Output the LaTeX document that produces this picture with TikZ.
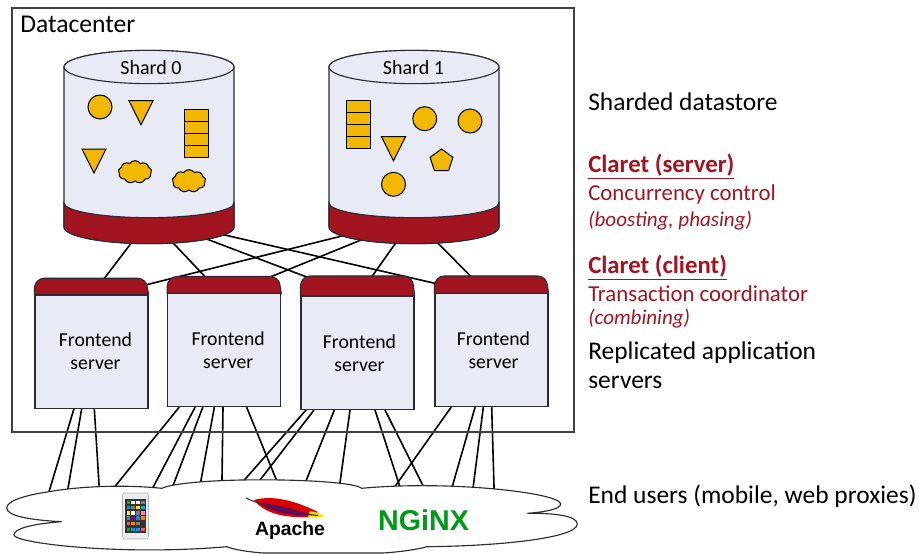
\documentclass[tikz,border=0pt]{standalone}
\usepackage{fontspec}
\setmainfont{Carlito}
\newfontfamily\logofont{Liberation Sans}
\usepackage{tikz}
\usetikzlibrary{calc,backgrounds,shapes.geometric,shapes.symbols}
\definecolor{claret}{rgb}{0.64, 0.08, 0.13}
\definecolor{facegray}{rgb}{0.91, 0.92, 0.96}
\definecolor{itemgold}{rgb}{0.95, 0.72, 0.0}
\definecolor{edgegray}{rgb}{0.17, 0.17, 0.2}
\definecolor{nginxgreen}{rgb}{0.0, 0.6, 0.1}
\tikzset{
  link/.style={line width=1.2pt, line cap = round},
  frontend/.style={draw=edgegray, line width=.85pt, fill=facegray, minimum width=84.75pt, minimum height=84.75pt, align=center, font=\fontsize{14.8}{17.2}\selectfont, inner sep=0pt},
  fecap/.style={draw=edgegray, line width=.85pt, fill=claret},
  item/.style={draw=black, fill=itemgold, line width=.75pt},
  sidetext/.style={anchor=west, inner sep=0pt, font=\fontsize{19.1}{22}\selectfont},
  claretbig/.style={anchor=west, inner sep=0pt, text=claret, font=\fontsize{18.6}{22}\selectfont\bfseries},
  claretsmall/.style={anchor=west, inner sep=0pt, text=claret, font=\fontsize{17.1}{20}\selectfont},
  claretnote/.style={anchor=west, inner sep=0pt, text=claret, font=\fontsize{15.8}{18}\selectfont\itshape},
}
\begin{document}
\begin{tikzpicture}[x=.75pt, y=-.75pt]
  \useasboundingbox (0,0) rectangle (919,553);
  \node[draw=black!75, line width=.8pt, minimum width=421.5pt, minimum height=318pt, inner sep=0pt] (datacenter) at (293,220) {};
  \node[anchor=west, inner sep=0pt, font=\fontsize{19.2}{22}\selectfont] (dclabel) at (20,24) {Datacenter};

  % shards
  \foreach \n/\x/\l/\i in {shard0/149/151/0, shard1/414/413.5/1}{
    \node[anchor=south, minimum width=127.5pt, minimum height=120pt, inner sep=0pt] (\n) at (\x,227) {};
    \draw[fill=facegray, line width=.85pt, draw=edgegray] (\x-85,67) -- (\x-85,227) arc (180:360:63.75pt and 12.5pt) -- (\x+85,67) arc (0:180:63.75pt and 12.5pt) -- cycle;
    \draw[fill=claret, line width=.85pt, draw=edgegray] (\x-85,203) arc (180:360:63.75pt and 11pt) -- (\x+85,227) arc (360:180:63.75pt and 12.5pt) -- cycle;
    \draw[fill=facegray, line width=.85pt, draw=edgegray] (\x,67) ellipse (63.75pt and 12.5pt);
    \node[inner sep=0pt, font=\fontsize{15}{17}\selectfont] (\n label) at (\l,68) {Shard \i};
  }

  % items in the shards
  \foreach \cx/\cy in {100/107, 424.7/118.7, 470/121, 393.5/184.3}{
    \draw[item] (\cx,\cy) circle (9pt);
  }
  \foreach \tx/\ty in {129/100.7, 82/149, 381.5/136.7}{
    \draw[item] (\tx,\ty) -- ++(24,0) -- ++(-12,24) -- cycle;
  }
  \foreach \sx/\sy in {184/109.5, 346/100.7}{
    \foreach \i in {0,1,2,3}{
      \draw[item] (\sx,\sy+12*\i) rectangle ++(24,12);
    }
  }
  \foreach \cx/\cy in {135/172, 189/181}{
    \node[item, cloud, cloud puffs=9, cloud puff arc=110, aspect=1.5, minimum width=25pt, minimum height=17pt, inner sep=0pt] at (\cx,\cy) {};
  }
  \node[item, regular polygon, regular polygon sides=5, minimum size=18pt, inner sep=0pt] (pentagon) at (441.5,161) {};

  % frontends
  \foreach \n/\x/\y/\h/\t in {fe1/91.5/351.6/16.3/6pt, fe2/224.2/350.3/16.7/6pt, fe3/357.5/353/20/3pt, fe4/491.5/350.3/17.3/3pt}{
    \node[frontend] (\n) at (\x,\y) {\hspace*{\t}Frontend\\\hspace*{\t}server};
    \draw[fecap] (\n.north west) -- ++(0,-\h+10) arc (180:90:7.5pt) -- ++(93,0) arc (90:0:7.5pt) -- (\n.north east) -- cycle;
  }

  % end users
  \node[anchor=north, minimum width=400pt, minimum height=30pt, inner sep=0pt] (users) at (292,500) {};
  \draw[draw=edgegray, line width=.85pt, fill=white] (161.7,488.3) .. controls (120,484) and (75,487) .. (49,491.7)
    .. controls (20,496) and (6.7,502) .. (6.7,508) .. controls (6.7,516) and (30,520) .. (61.7,521.7)
    .. controls (30,524) and (14,529) .. (14,535) .. controls (14,543) and (120,556) .. (226.7,546.7)
    .. controls (235,550) and (250,552) .. (263,553) -- (383,553) .. controls (400,552) and (420,549) .. (426.7,546.7)
    .. controls (500,546) and (577.3,538) .. (577.3,524) .. controls (577.3,516) and (555,513) .. (527.3,513.3)
    .. controls (545,512) and (560.7,509) .. (560.7,504) .. controls (560.7,493) and (450,480) .. (361.7,488.3)
    .. controls (350,478) and (190,476) .. (161.7,488.3) -- cycle;

  % phone
  \draw[draw=gray!60, fill=gray!15, rounded corners=2pt] (122.5,493) rectangle (148.5,539);
  \fill[black!80] (125,499) rectangle (146,533);
  \foreach \a/\c in {0/green!70!black, 1/white, 2/white, 3/gray}{
    \fill[\c] (126.5+4.9*\a,500.5) rectangle ++(3.4,3.4);
  }
  \foreach \a/\c in {0/cyan!80!blue, 1/gray, 2/yellow!90!orange, 3/cyan}{
    \fill[\c] (126.5+4.9*\a,505.8) rectangle ++(3.4,3.4);
  }
  \foreach \a/\c in {0/yellow!90!orange, 1/white, 2/gray, 3/magenta!50}{
    \fill[\c] (126.5+4.9*\a,511.1) rectangle ++(3.4,3.4);
  }
  \foreach \a/\c in {0/cyan!70!black, 1/violet, 2/cyan!80!blue, 3/orange}{
    \fill[\c] (126.5+4.9*\a,516.4) rectangle ++(3.4,3.4);
  }
  \foreach \a/\c in {0/red!70, 1/orange, 2/gray}{
    \fill[\c] (126.5+4.9*\a,521.7) rectangle ++(3.4,3.4);
  }
  \foreach \a/\c in {0/green!70!black, 1/cyan!80!blue, 2/cyan!80!blue, 3/red!70}{
    \fill[\c] (126.5+4.9*\a,527.5) rectangle ++(3.4,3.4);
  }

  % apache and nginx
  \fill[red!85!black] (254,500) .. controls (275,494) and (300,503) .. (318,512) -- (310,517) .. controls (285,518) and (265,514) .. (254,500) -- cycle;
  \fill[yellow!80!orange] (310,511) .. controls (317,512) and (322,515) .. (325,516) .. controls (320,518) and (314,518) .. (308,517) -- cycle;
  \fill[violet!80!black] (260,503) .. controls (280,505) and (295,510) .. (312,515) .. controls (295,516) and (272,513) .. (260,503) -- cycle;
  \draw[black!80, thick] (246,498) .. controls (258,504) and (285,512) .. (318,515.5);
  \node[inner sep=0pt, font=\logofont\fontsize{14.5}{18}\selectfont\bfseries] (apache) at (290,530.5) {Apache};
  \node[inner sep=0pt, text=nginxgreen, font=\logofont\fontsize{21.5}{22}\selectfont\bfseries] (nginx) at (423.5,520) {NGiNX};

  % right column
  \node[sidetext] (t1) at (588,102) {Sharded datastore};
  \node[claretbig] (t2) at (588,166.5) {\underline{Claret (server)}};
  \node[claretsmall] (t3) at (588,194) {Concurrency control};
  \node[claretnote] (t4) at (588,220.5) {(boosting, phasing)};
  \node[claretbig] (t5) at (588,267.5) {\underline{Claret (client)}};
  \node[claretsmall] (t6) at (588,293.5) {Transaction coordinator};
  \node[claretnote] (t7) at (588,318.5) {(combining)};
  \node[sidetext] (t8) at (588,353) {Replicated application};
  \node[sidetext] (t9) at (588,382) {servers};
  \node[sidetext] (t10) at (588,496) {End users (mobile, web proxies)};

  \begin{scope}[on background layer]
    \foreach \s/\a/\f/\b in {shard0/-5.5/fe1/.5, shard0/9/fe2/-3.5, shard0/26/fe3/-.9, shard0/41/fe4/-13.5,
        shard1/-36/fe1/15.7, shard1/-21/fe2/6.1, shard1/-7/fe3/.7, shard1/8/fe4/-4}{
      \draw[link] ($(\s.south)+(\a,0)$) -- ($(\f.north)+(\b,0)$);
    }
    \foreach \f/\a/\b in {fe1/-17.5/-245.5, fe1/-9.8/-226, fe1/2.8/-192,
        fe2/-45.2/-188, fe2/-29.2/-145.6, fe2/-21.5/-124.4, fe2/-9.9/-94.6, fe2/-1.2/-70.3, fe2/22.5/-7.4,
        fe3/-51.5/-65.3, fe3/-43.5/-47.4, fe3/-23.2/6.4, fe3/-7.5/45.6, fe3/17.5/112.2, fe3/27.5/138.2,
        fe4/-40.5/93.4, fe4/-16.5/156.4, fe4/-8.2/179.5, fe4/.2/202.4}{
      \draw[link] ($(\f.south)+(\a,0)$) -- ($(users.north)+(\b,0)$);
    }
  \end{scope}
\end{tikzpicture}
\end{document}
